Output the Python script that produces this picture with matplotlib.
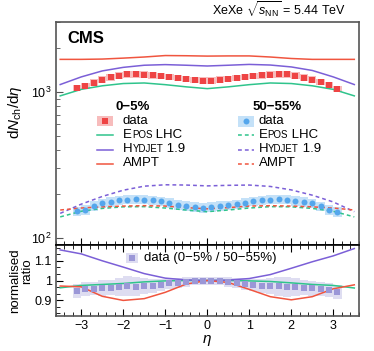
import numpy as np
import matplotlib
matplotlib.use("Agg")
import matplotlib.pyplot as plt
from matplotlib.ticker import FixedLocator, NullFormatter, MultipleLocator
from matplotlib.patches import Rectangle
from matplotlib.offsetbox import TextArea, HPacker, AnnotationBbox

plt.rcParams['font.family'] = ['Liberation Sans', 'DejaVu Sans']
plt.rcParams['mathtext.fontset'] = 'custom'
plt.rcParams['mathtext.rm'] = 'Liberation Sans'
plt.rcParams['mathtext.it'] = 'Liberation Sans:italic'
plt.rcParams['mathtext.bf'] = 'Liberation Sans:bold'

# ---------------- data ----------------
eta_data = [-3.1, -2.9, -2.7, -2.5, -2.3, -2.1, -1.9, -1.7, -1.5, -1.3, -1.1, -0.9, -0.7, -0.5, -0.3, -0.1,
            0.1, 0.3, 0.5, 0.7, 0.9, 1.1, 1.3, 1.5, 1.7, 1.9, 2.1, 2.3, 2.5, 2.7, 2.9, 3.1]

data_0_5 = [1065, 1093, 1158, 1214, 1258, 1292, 1319, 1319, 1313, 1298, 1284, 1264, 1245, 1225, 1206, 1195,
            1195, 1214, 1225, 1245, 1264, 1284, 1298, 1313, 1319, 1319, 1292, 1252, 1214, 1164, 1110, 1043]
data_50_55 = [153, 156, 166, 173, 178, 182, 184, 185, 184, 182, 179, 175, 170, 167, 164, 162,
              164, 166, 168, 171, 175, 179, 182, 184, 185, 184, 180, 177, 173, 165, 156, 152]
ratio_data = [0.947, 0.955, 0.959, 0.962, 0.964, 0.966, 0.971, 0.969, 0.972, 0.974, 0.979, 0.985, 0.988, 0.993, 0.996, 0.998,
              0.998, 0.996, 0.993, 0.988, 0.984, 0.978, 0.974, 0.972, 0.970, 0.968, 0.966, 0.964, 0.960, 0.957, 0.953, 0.942]
ratio_err = [0.035, 0.035, 0.035, 0.04, 0.04, 0.045, 0.05, 0.05, 0.04, 0.035, 0.03, 0.03, 0.025, 0.025, 0.02, 0.02,
             0.02, 0.02, 0.025, 0.025, 0.03, 0.03, 0.035, 0.04, 0.05, 0.05, 0.045, 0.04, 0.04, 0.035, 0.035, 0.035]
syst_0_5 = 0.05
syst_50_55 = 0.075

eta_model = [-3.5, -3.0, -2.5, -2.0, -1.5, -1.0, -0.5, 0.0, 0.5, 1.0, 1.5, 2.0, 2.5, 3.0, 3.5]

epos_0_5 = [939, 1040, 1100, 1140, 1150, 1120, 1082, 1052, 1082, 1120, 1150, 1140, 1100, 1040, 939]
hydjet_0_5 = [1122, 1265, 1390, 1470, 1520, 1535, 1520, 1502, 1520, 1540, 1525, 1480, 1400, 1265, 1122]
ampt_0_5 = [1667, 1667, 1675, 1700, 1730, 1770, 1765, 1755, 1760, 1760, 1730, 1690, 1667, 1667, 1667]

epos_50_55 = [140, 153, 160, 164, 164.5, 161, 156, 152, 156, 161, 164.5, 164, 160, 153, 140]
hydjet_50_55 = [148, 171, 193, 213, 227, 232, 231, 228, 230, 231, 226, 214, 197, 177, 152]
ampt_50_55 = [156, 161, 164, 166, 167, 166, 162, 159, 162, 166, 167, 166, 164, 161, 156]

epos_ratio = [0.963, 0.975, 0.980, 0.985, 0.993, 0.998, 1.0, 1.0, 1.0, 0.998, 0.995, 0.988, 0.980, 0.975, 0.962]
hydjet_ratio = [1.155, 1.135, 1.100, 1.068, 1.035, 1.012, 1.003, 1.0, 1.002, 1.010, 1.030, 1.062, 1.095, 1.125, 1.162]
ampt_ratio = [0.972, 0.968, 0.920, 0.899, 0.908, 0.940, 0.982, 1.0, 0.990, 0.955, 0.918, 0.902, 0.918, 0.958, 0.978]

# colours
c_epos = '#2fc48c'
c_hyd = '#7b5fd7'
c_ampt = '#f0553f'
c_red = '#ee4444'
c_pink = '#f7bcbc'
c_blue = '#54a6ec'
c_lblue = '#c4e1f8'
c_lav = '#9b97d7'
c_llav = '#deddf1'
frame_col = '#555555'

W, H = 374, 351
fig = plt.figure(figsize=(W / 100, H / 100), dpi=100)

def px_axes(l, t, r, b):
    return fig.add_axes([l / W, 1 - b / H, (r - l) / W, (b - t) / H])

ax1 = px_axes(56, 22, 358.5, 245)
ax2 = px_axes(56, 245, 358.5, 316)

eta_d = np.array(eta_data)
d05 = np.array(data_0_5)
d50 = np.array(data_50_55)

# ---------------- top panel ----------------
ax1.set_yscale('log')
ax1.bar(eta_d, 2 * syst_0_5 * d05, bottom=d05 * (1 - syst_0_5), width=0.2, color=c_pink, lw=0, zorder=1)
ax1.bar(eta_d, 2 * syst_50_55 * d50, bottom=d50 * (1 - syst_50_55), width=0.2, color=c_lblue, lw=0, zorder=1)

lw = 1.1
ax1.plot(eta_model, epos_0_5, color=c_epos, lw=lw, zorder=2)
ax1.plot(eta_model, hydjet_0_5, color=c_hyd, lw=lw, zorder=2)
ax1.plot(eta_model, ampt_0_5, color=c_ampt, lw=lw, zorder=2)
ax1.plot(eta_model, epos_50_55, color=c_epos, lw=lw, dashes=(2.5, 2), zorder=2)
ax1.plot(eta_model, hydjet_50_55, color=c_hyd, lw=lw, dashes=(2.5, 2), zorder=2)
ax1.plot(eta_model, ampt_50_55, color=c_ampt, lw=lw, dashes=(2.5, 2), zorder=2)

ax1.plot(eta_d, d05, 's', color=c_red, ms=3.8, mew=0, zorder=3)
ax1.plot(eta_d, d50, 'o', color=c_blue, ms=4.3, mew=0, zorder=3)

ax1.set_xlim(-3.6, 3.6)
ax1.set_ylim(90, 3000)
ax1.yaxis.set_minor_locator(FixedLocator([200, 300, 400, 500, 600, 700, 800, 900, 2000, 3000]))
ax1.yaxis.set_minor_formatter(NullFormatter())
ax1.set_yticks([100, 1000], [r'$10^{2}$', r'$10^{3}$'])
ax1.xaxis.set_major_locator(MultipleLocator(1))
ax1.xaxis.set_minor_locator(MultipleLocator(0.2))
ax1.tick_params(axis='x', which='both', direction='in', labelbottom=False)
ax1.tick_params(axis='y', which='both', direction='in', labelsize=9, pad=3, color=frame_col)
ax1.tick_params(which='major', length=5)
ax1.tick_params(which='minor', length=3)

# ---------------- ratio panel ----------------
ax2.bar(eta_d, 2 * np.array(ratio_err), bottom=np.array(ratio_data) - np.array(ratio_err), width=0.2,
        color=c_llav, lw=0, zorder=1)
ax2.plot(eta_model, epos_ratio, color=c_epos, lw=lw, zorder=2)
ax2.plot(eta_model, hydjet_ratio, color=c_hyd, lw=lw, zorder=2)
ax2.plot(eta_model, ampt_ratio, color=c_ampt, lw=lw, zorder=2)
ax2.plot(eta_d, ratio_data, 's', color=c_lav, ms=3.8, mew=0, zorder=3)

ax2.set_xlim(-3.6, 3.6)
ax2.set_ylim(0.82, 1.18)
ax2.set_yticks([0.9, 1.0, 1.1], ['0.9', '1', '1.1'])
ax2.yaxis.set_minor_locator(MultipleLocator(0.1 / 3))
ax2.set_xticks([-3, -2, -1, 0, 1, 2, 3])
ax2.xaxis.set_minor_locator(MultipleLocator(0.2))
ax2.tick_params(axis='x', which='both', direction='in', top=True, labelsize=9, pad=3)
ax2.tick_params(axis='y', which='both', direction='in', labelsize=9, pad=3)
ax2.tick_params(which='major', length=5)
ax2.tick_params(which='minor', length=3)

for ax in (ax1, ax2):
    for s in ax.spines.values():
        s.set_color(frame_col)
        s.set_linewidth(1.2)
ax1.spines['bottom'].set_color('black')
ax2.spines['top'].set_color('black')

# ---------------- texts & legend (pixel overlay) ----------------
ov = fig.add_axes([0, 0, 1, 1], zorder=10)
ov.set_xlim(0, W)
ov.set_ylim(H, 0)
ov.axis('off')
ov.patch.set_alpha(0)

ov.text(346.5, 10, r'XeXe $\sqrt{s_{\mathregular{NN}}}$ = 5.44 TeV', ha='right', va='center', fontsize=9)
ov.text(67.5, 38.5, 'CMS', ha='left', va='center', fontsize=12, fontweight='bold')
ov.text(15, 112, r'd$N_{\mathregular{ch}}$/d$\eta$', rotation=90, ha='center', va='center', fontsize=11)
ov.text(15, 281, 'normalised', rotation=90, ha='center', va='center', fontsize=9.5)
ov.text(27.5, 271, 'ratio', rotation=90, ha='center', va='center', fontsize=9.5)
ov.text(207, 341, r'$\eta$', ha='center', va='center', fontsize=11)

ov.text(133, 107, '0\u22125%', ha='center', va='center', fontsize=9.5, fontweight='bold')
ov.text(277, 107, '50\u221255%', ha='center', va='center', fontsize=9.5, fontweight='bold')

rows = [121, 135, 149.5, 163.5]
cols = [(105, 123), (246, 258.5)]

def smallcaps(x, y, parts):
    kids = [TextArea(t, textprops=dict(size=s)) for t, s in parts]
    box = HPacker(children=kids, align='baseline', pad=0, sep=0)
    ab = AnnotationBbox(box, (x, y), xycoords='data', box_alignment=(0, 0.5), frameon=False, pad=0)
    ov.add_artist(ab)

# data rows
ov.add_patch(Rectangle((cols[0][0] - 8, rows[0] - 5), 16, 10, color=c_pink, lw=0))
ov.plot(cols[0][0], rows[0], 's', color=c_red, ms=3.8, mew=0)
ov.add_patch(Rectangle((cols[1][0] - 8, rows[0] - 5.5), 16, 11, color=c_lblue, lw=0))
ov.plot(cols[1][0], rows[0], 'o', color=c_blue, ms=4.3, mew=0)

for i, (mx, tx) in enumerate(cols):
    ls = '-' if i == 0 else (0, (2.5, 2))
    ov.text(tx, rows[0], 'data', ha='left', va='center', fontsize=9.5)
    ov.plot([mx - 8, mx + 8], [rows[1], rows[1]], color=c_epos, lw=lw, linestyle=ls)
    ov.plot([mx - 8, mx + 8], [rows[2], rows[2]], color=c_hyd, lw=lw, linestyle=ls)
    ov.plot([mx - 8, mx + 8], [rows[3], rows[3]], color=c_ampt, lw=lw, linestyle=ls)
    smallcaps(tx, rows[1], [('E', 9.5), ('POS', 7), (' LHC', 9.5)])
    smallcaps(tx, rows[2], [('H', 9.5), ('YDJET', 7), (' 1.9', 9.5)])
    ov.text(tx, rows[3], 'AMPT', ha='left', va='center', fontsize=9.5)

# ratio legend
ov.add_patch(Rectangle((131.7 - 6, 257.7 - 5), 12, 10, color=c_llav, lw=0))
ov.plot(131.7, 257.7, 's', color=c_lav, ms=3.8, mew=0)
ov.text(144, 257.7, 'data (0\u22125% / 50\u221255%)', ha='left', va='center', fontsize=9.5)

fig.savefig('out.png', dpi=100)
